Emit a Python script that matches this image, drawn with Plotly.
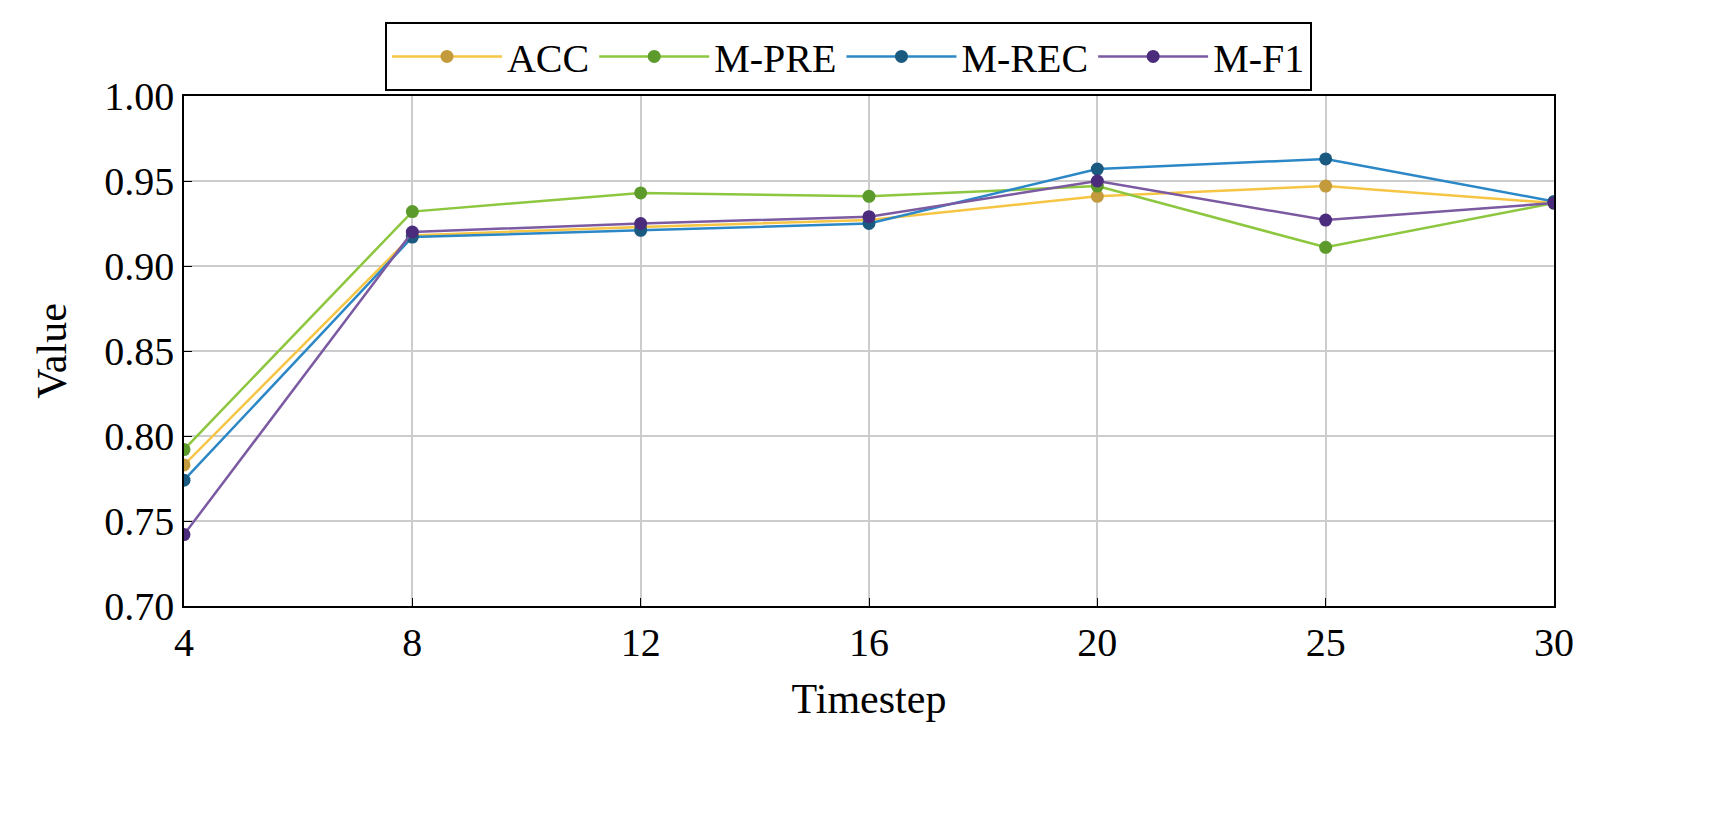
import plotly.graph_objects as go

timesteps = ["4", "8", "12", "16", "20", "25", "30"]
acc = [0.783, 0.918, 0.923, 0.927, 0.941, 0.947, 0.937]
m_pre = [0.792, 0.932, 0.943, 0.941, 0.947, 0.911, 0.937]
m_rec = [0.774, 0.917, 0.921, 0.925, 0.957, 0.963, 0.938]
m_f1 = [0.742, 0.920, 0.925, 0.929, 0.950, 0.927, 0.937]

series = [
    ("ACC", acc, "#f6c543", "#c39b3c"),
    ("M-PRE", m_pre, "#8dc63f", "#5b9a2b"),
    ("M-REC", m_rec, "#2b87c6", "#1b5a80"),
    ("M-F1", m_f1, "#7b5aa2", "#4b2b7b"),
]

fig = go.Figure()
for name, vals, lc, mc in series:
    fig.add_trace(go.Scatter(
        x=timesteps, y=vals, name=name, mode="lines+markers",
        line=dict(color=lc, width=2.5),
        marker=dict(color=mc, size=13),
    ))

axis_common = dict(
    showline=True, linecolor="black", linewidth=1.5, mirror=True,
    showgrid=True, gridcolor="#cccccc", gridwidth=2,
    ticks="inside", ticklen=8, tickcolor="black",
    tickfont=dict(size=40), zeroline=False,
)

fig.update_layout(
    width=1732, height=816,
    paper_bgcolor="white", plot_bgcolor="white",
    font=dict(family="Liberation Serif", color="black"),
    margin=dict(l=176, r=186, t=88, b=218),
    showlegend=True,
    legend=dict(
        orientation="h", x=0.485, xanchor="center", y=1.01, yanchor="bottom",
        bordercolor="black", borderwidth=2, font=dict(size=40),
        itemwidth=110,
    ),
    xaxis=dict(title=dict(text="Timestep", font=dict(size=42), standoff=20),
               range=[0, 6], **axis_common),
    yaxis=dict(title=dict(text="Value", font=dict(size=42), standoff=25),
               range=[0.70, 1.00], dtick=0.05, tickformat=".2f", **axis_common),
)

fig.write_html("out.html")
